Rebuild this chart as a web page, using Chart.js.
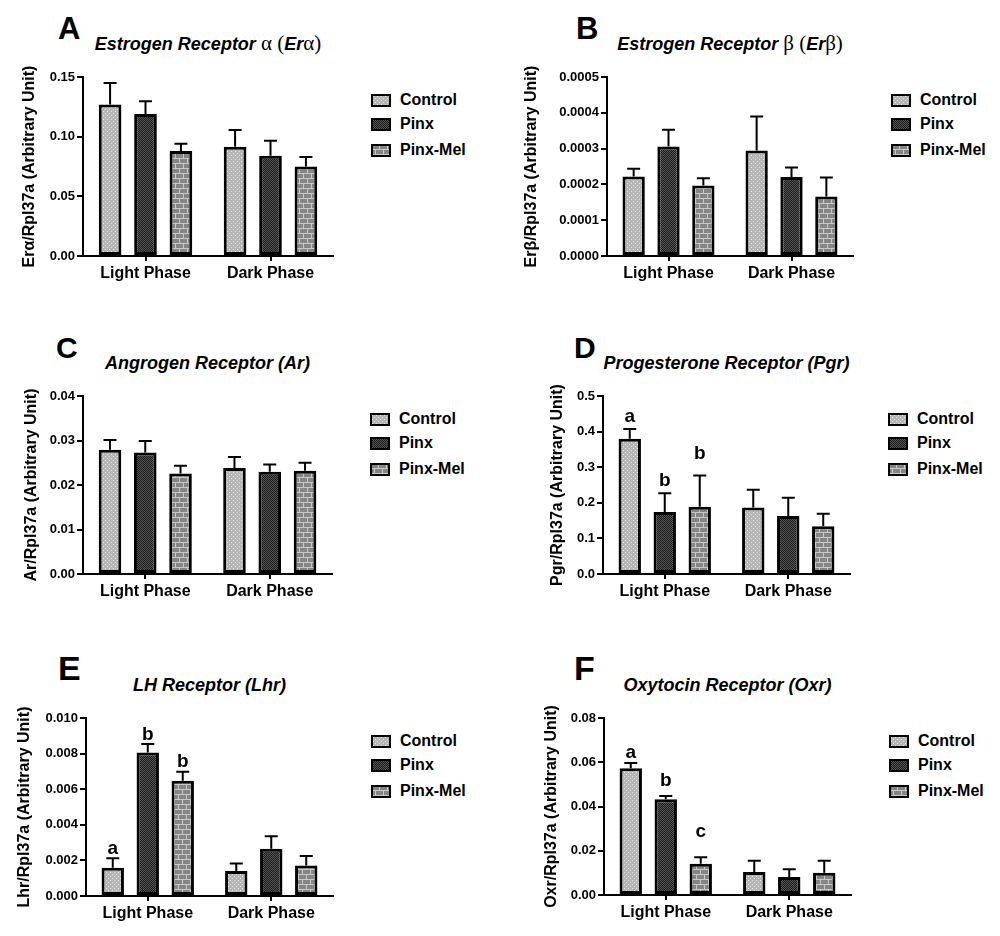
<!DOCTYPE html>
<html>
<head>
<meta charset="utf-8">
<script src="https://cdn.jsdelivr.net/npm/chart.js@4.4.0/dist/chart.umd.min.js"></script>
<style>
body { margin: 0; background: #fff; font-family: "Liberation Sans", Arial, sans-serif; color: #000; }
#fig { position: relative; width: 1000px; height: 936px; overflow: hidden; }
.t { position: absolute; white-space: nowrap; }
.gr { font-family: "Liberation Serif", "DejaVu Serif", serif; font-weight: normal; font-style: normal; font-size: 21px; line-height: 0; }
canvas.c, canvas.sw { position: absolute; }
</style>
</head>
<body>
<div id="fig"></div>
<script>
const phases = ['Light Phase', 'Dark Phase'];
const groups = ['Control', 'Pinx', 'Pinx-Mel'];

// A - Estrogen receptor alpha   (rows: Control, Pinx, Pinx-Mel ; cols: light, dark)
const eraTicks = ['0.00', '0.05', '0.10', '0.15'];
const eraMean = [[0.127, 0.0915], [0.119, 0.084], [0.088, 0.075]];
const eraSem = [[0.018, 0.014], [0.0106, 0.0126], [0.006, 0.008]];

// B - Estrogen receptor beta
const erbTicks = ['0.0000', '0.0001', '0.0002', '0.0003', '0.0004', '0.0005'];
const erbMean = [[0.000222, 0.000295], [0.000306, 0.000221], [0.000197, 0.000166]];
const erbSem = [[0.000022, 0.000095], [0.000047, 0.000026], [0.00002, 0.000053]];

// C - Androgen receptor
const arTicks = ['0.00', '0.01', '0.02', '0.03', '0.04'];
const arMean = [[0.0279, 0.0238], [0.0273, 0.0230], [0.0226, 0.0232]];
const arSem = [[0.0022, 0.0025], [0.0026, 0.0016], [0.0017, 0.0018]];

// D - Progesterone receptor
const pgrTicks = ['0.0', '0.1', '0.2', '0.3', '0.4', '0.5'];
const pgrMean = [[0.380, 0.187], [0.174, 0.163], [0.189, 0.134]];
const pgrSem = [[0.027, 0.050], [0.053, 0.051], [0.088, 0.035]];
const pgrLetters = [['a', ''], ['b', ''], ['b', '']];

// E - LH receptor
const lhrTicks = ['0.000', '0.002', '0.004', '0.006', '0.008', '0.010'];
const lhrMean = [[0.00159, 0.00141], [0.00806, 0.00266], [0.00647, 0.00171]];
const lhrSem = [[0.00053, 0.00041], [0.00048, 0.0007], [0.00051, 0.00054]];
const lhrLetters = [['a', ''], ['b', ''], ['b', '']];

// F - Oxytocin receptor
const oxrTicks = ['0.00', '0.02', '0.04', '0.06', '0.08'];
const oxrMean = [[0.0573, 0.0104], [0.0433, 0.0081], [0.0141, 0.0101]];
const oxrSem = [[0.0024, 0.0051], [0.0015, 0.0035], [0.003, 0.0054]];
const oxrLetters = [['a', ''], ['b', ''], ['c', '']];

const B = '<b><i>', E = '</i></b>';
const panels = [
  { tag: 'A', plot: [83, 77, 333, 256], tagX: 58, tagSize: 31, yGap: 53,
    title: B + 'Estrogen Receptor' + E + ' <span class="gr">α (</span>' + B + 'Er' + E + '<span class="gr">α)</span>',
    yLabel: 'Erα/Rpl37a (Arbitrary Unit)', ticks: eraTicks, mean: eraMean, sem: eraSem },
  { tag: 'B', plot: [607, 77, 853, 256], tagX: 576, tagSize: 31, yGap: 75,
    title: B + 'Estrogen Receptor' + E + ' <span class="gr">β (</span>' + B + 'Er' + E + '<span class="gr">β)</span>',
    yLabel: 'Erβ/Rpl37a (Arbitrary Unit)', ticks: erbTicks, mean: erbMean, sem: erbSem },
  { tag: 'C', plot: [83, 396, 332, 574], tagX: 56, tagSize: 30, yGap: 51,
    title: B + 'Angrogen Receptor (Ar)' + E,
    yLabel: 'Ar/Rpl37a (Arbitrary Unit)', ticks: arTicks, mean: arMean, sem: arSem },
  { tag: 'D', plot: [603, 396, 850, 574], tagX: 574, tagSize: 30, yGap: 45,
    title: B + 'Progesterone Receptor (Pgr)' + E,
    yLabel: 'Pgr/Rpl37a (Arbitrary Unit)', ticks: pgrTicks, mean: pgrMean, sem: pgrSem,
    letters: pgrLetters, gaps: [7.5, 7, 16] },
  { tag: 'E', plot: [86, 718, 333, 896], tagX: 58, tagSize: 34, yGap: 61,
    title: B + 'LH Receptor (Lhr)' + E,
    yLabel: 'Lhr/Rpl37a (Arbitrary Unit)', ticks: lhrTicks, mean: lhrMean, sem: lhrSem,
    letters: lhrLetters, gaps: [4, 4, 5] },
  { tag: 'F', plot: [604, 718, 851, 895], tagX: 574, tagSize: 34, yGap: 52,
    title: B + 'Oxytocin Receptor (Oxr)' + E,
    yLabel: 'Oxr/Rpl37a (Arbitrary Unit)', ticks: oxrTicks, mean: oxrMean, sem: oxrSem,
    letters: oxrLetters, gaps: [5, 10, 20] }
];

// fill patterns like the prism ones
function tile(w, h, draw) {
  const c = document.createElement('canvas');
  c.width = w; c.height = h;
  const g = c.getContext('2d');
  draw(g);
  return g.createPattern(c, 'repeat');
}
const dots = tile(4, 4, g => {
  g.fillStyle = '#b5b5b5'; g.fillRect(0, 0, 4, 4);
  g.fillStyle = '#e6e6e6'; g.fillRect(0, 0, 1, 1); g.fillRect(2, 2, 1, 1);
});
const checks = tile(2, 2, g => {
  g.fillStyle = '#1c1c1c'; g.fillRect(0, 0, 2, 2);
  g.fillStyle = '#555555'; g.fillRect(0, 0, 1, 1); g.fillRect(1, 1, 1, 1);
});
const bricks = tile(8, 10, g => {
  g.fillStyle = '#858585'; g.fillRect(0, 0, 8, 10);
  g.fillStyle = '#c8c8c8';
  g.fillRect(0, 0, 8, 1); g.fillRect(0, 5, 8, 1);
  g.fillRect(0, 1, 1, 4); g.fillRect(4, 6, 1, 4);
});
const fills = [dots, checks, bricks];

const fig = document.getElementById('fig');
const YW = 100, PADT = 14, PADR = 12, XH = 40;

// put text so that its baseline lands on y
function text(html, x, base, size, center) {
  const d = document.createElement('div');
  d.className = 't';
  d.innerHTML = html;
  d.style.fontSize = size + 'px';
  d.style.lineHeight = size + 'px';
  d.style.left = x + 'px';
  d.style.top = (base - ((size - size * 1.117) / 2 + 0.905 * size)) + 'px';
  if (center) d.style.transform = 'translateX(-50%)';
  fig.appendChild(d);
  return d;
}

function errorBars(p) {
  return {
    id: 'errorBars',
    afterDatasetsDraw(chart) {
      const ctx = chart.ctx, y = chart.scales.y;
      ctx.save();
      ctx.strokeStyle = '#000';
      ctx.lineWidth = 2;
      chart.data.datasets.forEach((ds, i) => {
        chart.getDatasetMeta(i).data.forEach((bar, j) => {
          const top = y.getPixelForValue(ds.data[j] + p.sem[i][j]);
          ctx.beginPath();
          ctx.moveTo(bar.x, bar.y);
          ctx.lineTo(bar.x, top);
          ctx.moveTo(bar.x - 6.5, top);
          ctx.lineTo(bar.x + 6.5, top);
          ctx.stroke();
          if (p.letters && p.letters[i][j]) {
            ctx.fillStyle = '#000';
            ctx.font = 'bold 19px "Liberation Sans", Arial';
            ctx.textAlign = 'center';
            ctx.textBaseline = 'alphabetic';
            ctx.fillText(p.letters[i][j], bar.x, top - p.gaps[i]);
          }
        });
      });
      ctx.restore();
    }
  };
}

panels.forEach(p => {
  const [L, T, R, Bt] = p.plot;

  text('<b>' + p.tag + '</b>', p.tagX, T - 38, p.tagSize, false);
  text(p.title, (L + R) / 2, T - 27, 18, true);

  const cv = document.createElement('canvas');
  cv.className = 'c';
  const w = R - L + YW + PADR, h = Bt - T + PADT + XH;
  cv.width = w; cv.height = h;
  cv.style.left = (L - YW) + 'px';
  cv.style.top = (T - PADT) + 'px';
  cv.style.width = w + 'px';
  cv.style.height = h + 'px';
  fig.appendChild(cv);

  new Chart(cv, {
    type: 'bar',
    data: {
      labels: phases,
      datasets: groups.map((g, i) => ({
        label: g,
        data: p.mean[i],
        backgroundColor: fills[i],
        borderColor: '#000',
        borderWidth: 3,
        borderSkipped: false,
        categoryPercentage: 0.85,
        barPercentage: 0.64
      }))
    },
    options: {
      responsive: false,
      animation: false,
      devicePixelRatio: 1,
      layout: { padding: { left: 0, top: PADT, right: PADR, bottom: 0 } },
      plugins: { legend: { display: false }, tooltip: { enabled: false } },
      scales: {
        x: {
          grid: { drawOnChartArea: false, offset: false, tickLength: 5, color: '#000', lineWidth: 2 },
          border: { color: '#000', width: 2 },
          ticks: { font: { family: '"Liberation Sans", Arial', size: 16, weight: 'bold' }, color: '#000', padding: 3, maxRotation: 0 },
          afterFit: s => { s.height = XH; }
        },
        y: {
          min: +p.ticks[0],
          max: +p.ticks[p.ticks.length - 1],
          grid: { drawOnChartArea: false, tickLength: 6, color: '#000', lineWidth: 2 },
          border: { color: '#000', width: 2 },
          ticks: { font: { family: '"Liberation Sans", Arial', size: 13, weight: 'bold' }, color: '#000', padding: 2, autoSkip: false,
                   callback: (v, i) => p.ticks[i] },
          afterBuildTicks: s => { s.ticks = p.ticks.map(t => ({ value: +t })); },
          title: { display: true, text: p.yLabel, color: '#000',
                   font: { family: '"Liberation Sans", Arial', size: 16, weight: 'bold' },
                   padding: { top: YW - p.yGap - 9.6, bottom: 0 } },
          afterFit: s => { s.width = YW; }
        }
      }
    },
    plugins: [errorBars(p)]
  });

  // legend
  const rows = [23, 47, 73];
  groups.forEach((g, i) => {
    const sw = document.createElement('canvas');
    sw.className = 'sw';
    sw.width = 20; sw.height = 13;
    sw.style.left = (R + 38) + 'px';
    sw.style.top = (T + rows[i] - 6.5) + 'px';
    const sg = sw.getContext('2d');
    sg.fillStyle = fills[i];
    sg.fillRect(0, 0, 20, 13);
    sg.strokeStyle = '#000';
    sg.lineWidth = 2;
    sg.strokeRect(1, 1, 18, 11);
    fig.appendChild(sw);
    text('<b>' + g + '</b>', R + 67, T + rows[i] + 5.7, 16, false);
  });
});
</script>
</body>
</html>
